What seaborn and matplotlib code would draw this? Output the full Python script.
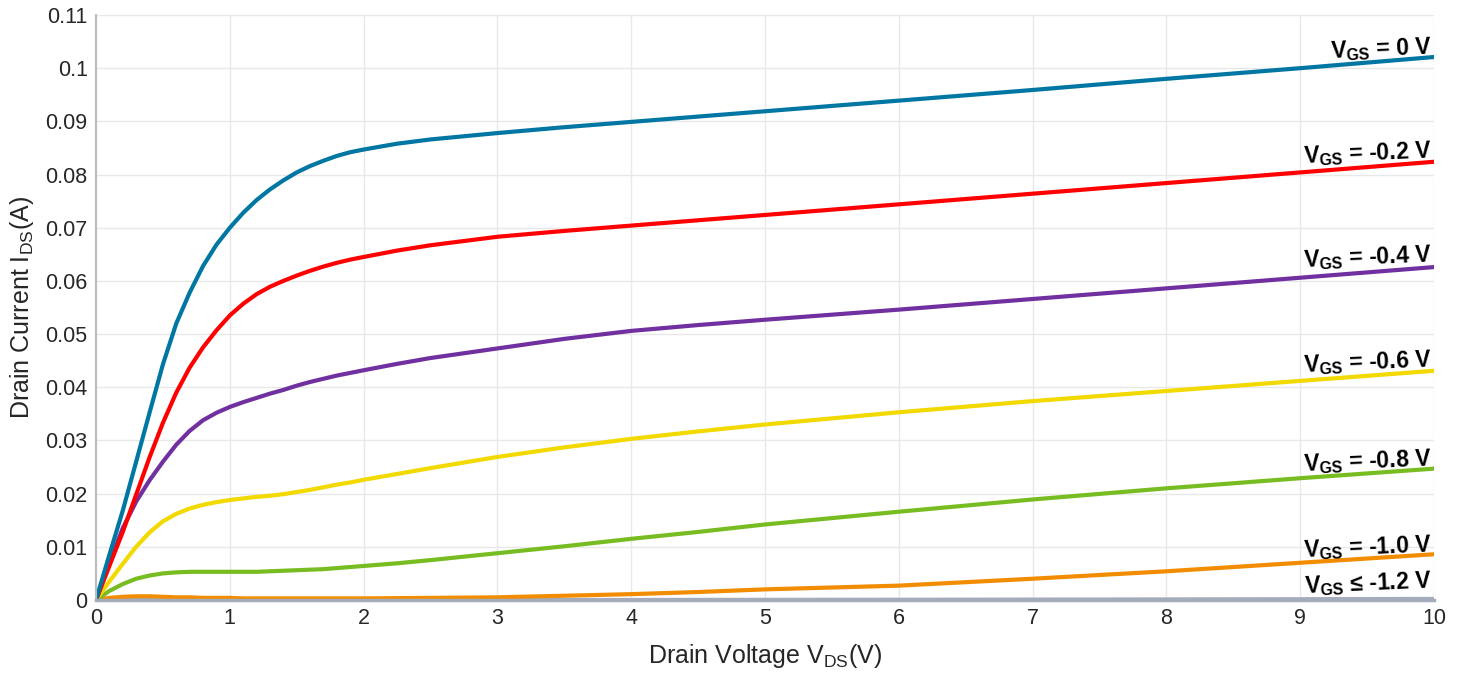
import numpy as np
import pandas as pd
import matplotlib
matplotlib.use("Agg")
import matplotlib.pyplot as plt
import seaborn as sns
from matplotlib.ticker import FuncFormatter

# ---------------- data ----------------
vds = [0, 0.1, 0.2, 0.3, 0.4, 0.5, 0.6, 0.7, 0.8, 0.9, 1.0,
       1.1, 1.2, 1.3, 1.4, 1.5, 1.6, 1.7, 1.8, 1.9, 2.0,
       2.25, 2.5, 3.0, 3.5, 4.0, 4.5, 5.0, 6.0, 7.0, 8.0, 9.0, 10.0]

ids_0p0 = [0, 0.0085, 0.0168, 0.0260, 0.0352, 0.0443, 0.0520, 0.0578, 0.0628, 0.0668, 0.0700,
           0.0728, 0.0752, 0.0772, 0.0789, 0.0804, 0.0816, 0.0826, 0.0835, 0.0842, 0.0847,
           0.0858, 0.0866, 0.0878, 0.0889, 0.0899, 0.0909, 0.0919, 0.0939, 0.0959, 0.0980, 0.1000, 0.1021]
ids_m0p2 = [0, 0.0064, 0.0128, 0.0198, 0.0268, 0.0333, 0.0390, 0.0437, 0.0475, 0.0507, 0.0535,
            0.0557, 0.0575, 0.0589, 0.0600, 0.0610, 0.0619, 0.0627, 0.0634, 0.0640, 0.0645,
            0.0657, 0.0667, 0.0683, 0.0694, 0.0704, 0.0714, 0.0724, 0.0744, 0.0764, 0.0784, 0.0804, 0.0824]
ids_m0p4 = [0, 0.0070, 0.0135, 0.0185, 0.0225, 0.0260, 0.0292, 0.0318, 0.0338, 0.0352, 0.0363,
            0.0372, 0.0380, 0.0388, 0.0395, 0.0403, 0.0410, 0.0416, 0.0422, 0.0427, 0.0432,
            0.0444, 0.0455, 0.0473, 0.0491, 0.0506, 0.0517, 0.0527, 0.0546, 0.0566, 0.0586, 0.0606, 0.0626]
ids_m0p6 = [0, 0.0035, 0.0068, 0.0100, 0.0127, 0.0148, 0.0162, 0.0172, 0.0179, 0.0184, 0.0188,
            0.0191, 0.0194, 0.0196, 0.0199, 0.0203, 0.0207, 0.0212, 0.0217, 0.0221, 0.0226,
            0.0237, 0.0248, 0.0269, 0.0287, 0.0303, 0.0317, 0.0330, 0.0353, 0.0374, 0.0393, 0.0412, 0.0431]
ids_m0p8 = [0, 0.0017, 0.0030, 0.0040, 0.0046, 0.0050, 0.0052, 0.0053, 0.0053, 0.0053, 0.0053,
            0.0053, 0.0053, 0.0054, 0.0055, 0.0056, 0.0057, 0.0058, 0.0060, 0.0062, 0.0064,
            0.0069, 0.0075, 0.0088, 0.0101, 0.0115, 0.0128, 0.0142, 0.0166, 0.0189, 0.0210, 0.0229, 0.0247]
ids_m1p0 = [0, 0.0004, 0.0006, 0.0007, 0.0007, 0.0006, 0.0005, 0.0005, 0.0004, 0.0004, 0.0004,
            0.0003, 0.0003, 0.0003, 0.0003, 0.0003, 0.0003, 0.0003, 0.0003, 0.0003, 0.0003,
            0.00035, 0.0004, 0.0005, 0.0008, 0.0011, 0.0015, 0.0020, 0.0027, 0.0040, 0.0054, 0.0070, 0.0086]
ids_m1p2 = [0, 0, 0, 0, 0, 0, 0, 0, 0, 0, 0,
            0, 0, 0, 0, 0, 0, 0, 0, 0, 0,
            0, 0, 0, 0, 0, 0.00002, 0.00003, 0.00005, 0.00008, 0.00011, 0.00015, 0.0002]

series_keys = ["0", "-0.2", "-0.4", "-0.6", "-0.8", "-1.0", "-1.2"]
series_vals = [ids_0p0, ids_m0p2, ids_m0p4, ids_m0p6, ids_m0p8, ids_m1p0, ids_m1p2]
series_labels = [r"$\mathbf{V}_{\mathbf{GS}}$ = 0 V",
                 r"$\mathbf{V}_{\mathbf{GS}}$ = -0.2 V",
                 r"$\mathbf{V}_{\mathbf{GS}}$ = -0.4 V",
                 r"$\mathbf{V}_{\mathbf{GS}}$ = -0.6 V",
                 r"$\mathbf{V}_{\mathbf{GS}}$ = -0.8 V",
                 r"$\mathbf{V}_{\mathbf{GS}}$ = -1.0 V",
                 r"$\mathbf{V}_{\mathbf{GS}}$ ≤ -1.2 V"]
series_colors = ["#0077A3", "#FF0000", "#7030A0", "#F2D900", "#77BD22", "#F28C00", "#A4ABBA"]

x_ticks = [0, 1, 2, 3, 4, 5, 6, 7, 8, 9, 10]
y_ticks = [0, 0.01, 0.02, 0.03, 0.04, 0.05, 0.06, 0.07, 0.08, 0.09, 0.1, 0.11]

# ---------------- style ----------------
sns.set_style("white")
plt.rcParams["font.family"] = ["Liberation Sans", "DejaVu Sans"]
plt.rcParams["mathtext.fontset"] = "custom"
plt.rcParams["mathtext.rm"] = "Liberation Sans"
plt.rcParams["mathtext.it"] = "Liberation Sans:italic"
plt.rcParams["mathtext.bf"] = "Liberation Sans:bold"

rows = []
for key, vals in zip(series_keys, series_vals):
    for x, y in zip(vds, vals):
        rows.append({"VDS": x, "IDS": y, "VGS": key})
df = pd.DataFrame(rows)

fig = plt.figure(figsize=(14.65, 6.77), dpi=100)
ax = fig.add_axes([96 / 1465, 77 / 677, (1434 - 96) / 1465, (600 - 15) / 677])

order = series_keys[::-1]
pal = dict(zip(series_keys, series_colors))
sns.lineplot(data=df, x="VDS", y="IDS", hue="VGS", hue_order=order, palette=pal,
             linewidth=3.0, ax=ax, legend=False, sort=True)

ax.set_xlim(0, 10)
ax.set_ylim(0, 0.11)
ax.set_xticks(x_ticks)
ax.set_yticks(y_ticks)
ax.yaxis.set_major_formatter(FuncFormatter(lambda v, p: f"{v:g}"))
ax.grid(True, color="#e8e8e8", linewidth=1.0)
ax.set_axisbelow(True)
for s in ["top", "right"]:
    ax.spines[s].set_visible(False)
ax.spines["left"].set_color("#bdbdbd")
ax.spines["left"].set_linewidth(1.5)
ax.spines["bottom"].set_color("#a4abba")
ax.spines["bottom"].set_linewidth(2.5)
ax.tick_params(axis="both", direction="in", length=9, width=1.0, color="#7a7a7a",
               labelsize=15.5, labelcolor="#262626", pad=6)

ax.set_xlabel(r"Drain Voltage V$_{\mathrm{DS}}$(V)", fontsize=18, color="#262626", labelpad=9)
ax.set_ylabel(r"Drain Current I$_{\mathrm{DS}}$(A)", fontsize=18, color="#262626", labelpad=7)

label_offsets = [10, 11, 12, 11, 10, 9, 18]
for vals, lab, off in zip(series_vals, series_labels, label_offsets):
    ax.annotate(lab, xy=(vds[-1], vals[-1]), xytext=(-2, off), textcoords="offset pixels",
                ha="right", va="center", fontsize=16.5, fontweight="bold", color="black",
                rotation=2.5, rotation_mode="anchor", annotation_clip=False)

fig.savefig("out.png", dpi=100)
